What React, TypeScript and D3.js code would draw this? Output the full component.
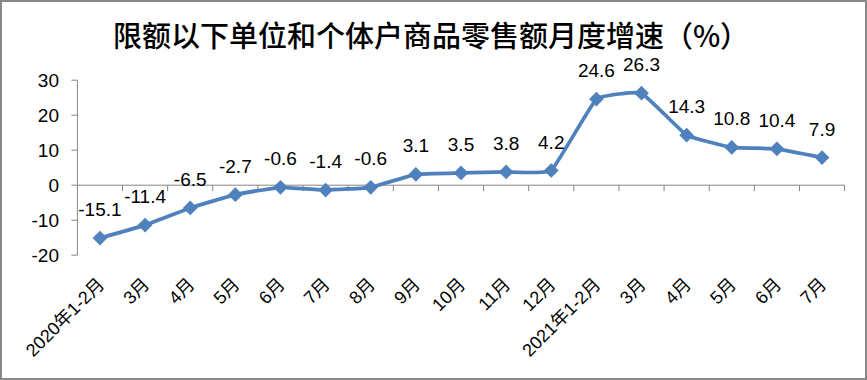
import React from "react";
import * as d3 from "d3";

const categories = ["2020年1-2月", "3月", "4月", "5月", "6月", "7月", "8月", "9月", "10月", "11月", "12月", "2021年1-2月", "3月", "4月", "5月", "6月", "7月"];
const values = [-15.1, -11.4, -6.5, -2.7, -0.6, -1.4, -0.6, 3.1, 3.5, 3.8, 4.2, 24.6, 26.3, 14.3, 10.8, 10.4, 7.9];
const yTicks = [-20, -10, 0, 10, 20, 30];
const title = "限额以下单位和个体户商品零售额月度增速（%）";

const W = 867;
const H = 380;
const FONT = "'Liberation Sans', Arial, 'Noto Sans CJK SC', sans-serif";
const BLUE = "#4F81BD";
const AXIS = "#868686";

export default function App() {
  const keys = categories.map((_, i) => String(i));
  const x = d3.scaleBand<string>().domain(keys).range([77.4, 844.6]).padding(0);
  const y = d3.scaleLinear().domain([-20, 30]).range([255.2, 80.2]);
  const cx = (i: number) => (x(String(i)) as number) + x.bandwidth() / 2;

  const line = d3
    .line<number>()
    .x((_, i) => cx(i))
    .y((d) => y(d))
    .curve(d3.curveCardinal.tension(0.7));

  const diamond = d3.symbol(d3.symbolSquare, 88)() as string;
  const x0 = x.range()[0];
  const x1 = x.range()[1];

  return (
    <svg width={W} height={H} style={{ position: "absolute", left: 0, top: 0, background: "#fff" }} fontFamily={FONT}>
      <rect x={1} y={1} width={W - 2} height={H - 2} fill="#fff" stroke="#878787" strokeWidth={2} />
      <text x={431} y={47} textAnchor="middle" fontSize={29} fontFamily="'Noto Sans CJK SC', sans-serif" fontWeight={500} fill="#000">
        {title}
      </text>

      {/* y axis */}
      <line x1={x0} x2={x0} y1={y(30)} y2={y(-20)} stroke={AXIS} strokeWidth={1} />
      {yTicks.map((t) => (
        <g key={t}>
          <line x1={x0 - 6} x2={x0} y1={y(t)} y2={y(t)} stroke={AXIS} strokeWidth={1} />
          <text x={59} y={y(t)} dy="0.35em" textAnchor="end" fontSize={19} fill="#000">
            {t}
          </text>
        </g>
      ))}

      {/* x axis */}
      <line x1={x0} x2={x1} y1={y(0)} y2={y(0)} stroke={AXIS} strokeWidth={1} />
      {keys.map((k, i) => {
        const bx = (x(k) as number) + x.bandwidth();
        return <line key={"t" + i} x1={bx} x2={bx} y1={y(0)} y2={y(0) + 6} stroke={AXIS} strokeWidth={1} />;
      })}
      {categories.map((c, i) => (
        <text
          key={"c" + i}
          transform={`translate(${cx(i) + 1},${281}) rotate(-45)`}
          dy="0.35em"
          textAnchor="end"
          fontSize={18}
          fill="#000"
        >
          {c}
        </text>
      ))}

      {/* series */}
      <path d={line(values) as string} fill="none" stroke={BLUE} strokeWidth={3.75} strokeLinejoin="round" />
      {values.map((v, i) => (
        <path key={"m" + i} d={diamond} transform={`translate(${cx(i)},${y(v)}) rotate(45)`} fill={BLUE} stroke={BLUE} strokeWidth={1} />
      ))}
      {values.map((v, i) => (
        <text key={"l" + i} x={cx(i)} y={y(v) - 22} textAnchor="middle" fontSize={19} fill="#000">
          {v.toFixed(1)}
        </text>
      ))}
    </svg>
  );
}
